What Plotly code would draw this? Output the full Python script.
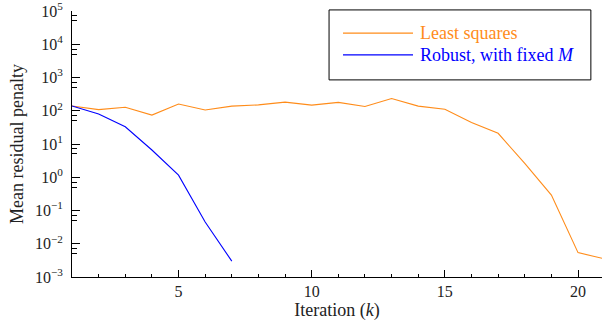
import plotly.graph_objects as go

iterations = list(range(1, 22))
least_squares = [139, 108, 128, 74, 160, 105, 138, 150, 182, 148, 178, 135, 234,
                 138, 111, 44, 21, 2.6, 0.29, 0.0054, 0.0035]
robust_iter = list(range(1, 8))
robust = [139, 80, 33, 6.6, 1.16, 0.045, 0.003]
series_names = ["Least squares", "Robust, with fixed <i>M</i>"]

y_tick_vals = [1e-3, 1e-2, 1e-1, 1e0, 1e1, 1e2, 1e3, 1e4, 1e5]
y_tick_text = ["10<sup>−3</sup>", "10<sup>−2</sup>", "10<sup>−1</sup>", "10<sup>0</sup>",
               "10<sup>1</sup>", "10<sup>2</sup>", "10<sup>3</sup>", "10<sup>4</sup>",
               "10<sup>5</sup>"]
x_tick_vals = [5, 10, 15, 20]

ORANGE = "#ff8c1a"
BLUE = "#0000ff"
FONT = "Liberation Serif"
colors = [ORANGE, BLUE]

fig = go.Figure()
fig.add_trace(go.Scatter(x=iterations, y=least_squares, mode="lines",
                         line=dict(color=ORANGE, width=1.1), name=series_names[0]))
fig.add_trace(go.Scatter(x=robust_iter, y=robust, mode="lines",
                         line=dict(color=BLUE, width=1.1), name=series_names[1]))

minor_y = []
for k in range(-3, 6):
    for f in (10 ** -0.15, 10 ** -0.3):
        v = 10 ** k * f
        if v > 1e-3:
            minor_y.append(v)

# manual legend (box, line samples, labels) in paper coordinates
shapes = [dict(type="rect", xref="paper", yref="paper",
               x0=0.485, x1=0.979, y0=0.741, y1=1.004,
               line=dict(color="black", width=1), fillcolor="white", layer="above")]
annotations = []
for i, (nm, col) in enumerate(zip(series_names, colors)):
    yy = [0.917, 0.835][i]
    shapes.append(dict(type="line", xref="paper", yref="paper",
                       x0=0.5113, x1=0.6434, y0=yy, y1=yy,
                       line=dict(color=col, width=1.1), layer="above"))
    annotations.append(dict(xref="paper", yref="paper", x=0.6528, y=yy,
                            xanchor="left", yanchor="middle", showarrow=False,
                            text=nm, font=dict(color=col, size=18, family=FONT)))

fig.update_layout(
    width=602, height=321,
    margin=dict(l=72, r=0, t=11, b=44),
    plot_bgcolor="white", paper_bgcolor="white",
    font=dict(family=FONT, size=15, color="#222"),
    showlegend=False,
    shapes=shapes,
    annotations=annotations,
)
fig.update_xaxes(
    range=[1, 20.9], showline=True, linecolor="black", linewidth=1,
    showgrid=False, zeroline=False, automargin=False,
    tickmode="array", tickvals=x_tick_vals, ticks="inside", ticklen=7,
    tickcolor="black", ticklabelstandoff=0,
    minor=dict(tickmode="array", tickvals=iterations, ticks="inside", ticklen=3.5,
               tickcolor="black"),
    title=dict(text="Iteration (<i>k</i>)", font=dict(size=18)),
    tickfont=dict(size=16),
)
fig.update_yaxes(
    type="log", range=[-3, 5], showline=True, linecolor="black", linewidth=1,
    showgrid=False, zeroline=False, automargin=False,
    tickmode="array", tickvals=y_tick_vals, ticktext=y_tick_text,
    ticks="inside", ticklen=8, tickcolor="black", ticklabelstandoff=5,
    ticklabeloverflow="allow",
    minor=dict(tickmode="array", tickvals=minor_y, ticks="inside", ticklen=4.5,
               tickcolor="black"),
    title=dict(text="Mean residual penalty", font=dict(size=18), standoff=6),
    tickfont=dict(size=16),
)

fig.write_html("out.html", config={"displayModeBar": False},
               post_script="document.body.style.margin='0px';")
